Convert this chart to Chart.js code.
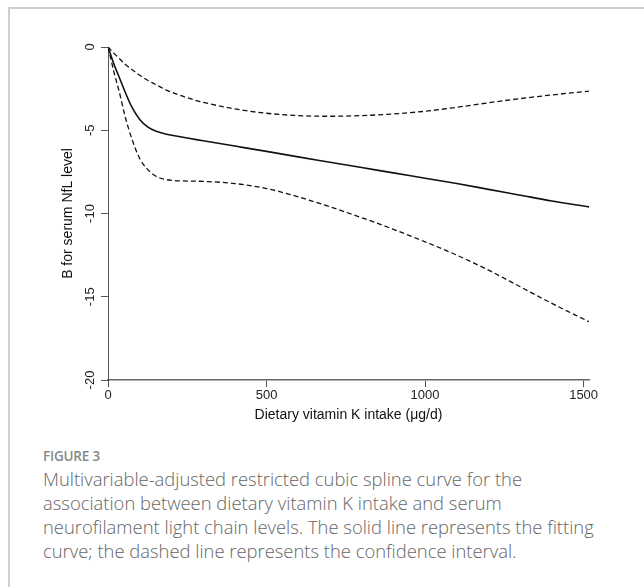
<!DOCTYPE html>
<html>
<head>
<meta charset="utf-8">
<script src="https://cdn.jsdelivr.net/npm/chart.js@4.4.0/dist/chart.umd.min.js"></script>
<style>
  html, body { margin: 0; padding: 0; background: #fff; }
  body { width: 644px; height: 587px; position: relative; overflow: hidden; }
  .frame { position: absolute; left: 8px; top: 7px; width: 720px; height: 700px; border-left: 2px solid #cfcfcf; border-top: 2px solid #cfcfcf; }
  .chart-box { position: absolute; left: 0; top: 0; width: 644px; height: 440px; }
  .fig-label { position: absolute; left: 43px; top: 447px; font-family: "Open Sans", Lato, sans-serif; font-weight: 600; font-size: 13.5px; color: #888; letter-spacing: -0.2px; }
  .caption { position: absolute; left: 43px; top: 467px; font-family: "Open Sans", Lato, sans-serif; font-weight: 300; font-size: 18.4px; line-height: 24px; color: #666; white-space: nowrap; }
</style>
</head>
<body>
<div class="frame"></div>
<div class="chart-box"><canvas id="splineChart" width="644" height="440"></canvas></div>
<div class="fig-label">FIGURE 3</div>
<div class="caption">Multivariable-adjusted restricted cubic spline curve for the<br>association between dietary vitamin K intake and serum<br>neurofilament light chain levels. The solid line represents the fitting<br>curve; the dashed line represents the confidence interval.</div>
<script>
// values
const intake = [0, 10, 20, 35, 55, 75, 100, 125, 150, 180, 210, 250, 300, 400, 500, 600, 700, 800, 900, 1000, 1100, 1200, 1300, 1400, 1517];
const fitB = [0, -0.55, -1.1, -1.8, -2.75, -3.6, -4.35, -4.8, -5.05, -5.22, -5.33, -5.47, -5.63, -5.95, -6.27, -6.6, -6.92, -7.24, -7.56, -7.88, -8.2, -8.55, -8.9, -9.25, -9.6];
const upperCI = [0, -0.2, -0.4, -0.68, -1.05, -1.35, -1.7, -2.0, -2.25, -2.55, -2.78, -3.05, -3.32, -3.72, -3.98, -4.12, -4.16, -4.12, -4.02, -3.86, -3.62, -3.35, -3.1, -2.88, -2.65];
const lowerCI = [0, -0.8, -1.6, -2.65, -4.25, -5.5, -6.7, -7.35, -7.75, -7.95, -8.02, -8.05, -8.07, -8.2, -8.5, -9.0, -9.6, -10.25, -10.95, -11.7, -12.5, -13.4, -14.4, -15.4, -16.5];
const xTicks = [0, 500, 1000, 1500];
const yTicks = [0, -5, -10, -15, -20];

Chart.defaults.font.family = '"Liberation Sans", Arial, sans-serif';

function toPoints(ys) {
    return intake.map((x, i) => ({ x: x, y: ys[i] }));
}

const lineStyle = {
    pointRadius: 0,
    fill: false,
    borderColor: '#111',
    cubicInterpolationMode: 'monotone'
};

const ctx = document.getElementById('splineChart').getContext('2d');
const splineChart = new Chart(ctx, {
    type: 'line',
    data: {
        datasets: [
            Object.assign({ label: 'Fit', data: toPoints(fitB), borderWidth: 1.6 }, lineStyle),
            Object.assign({ label: 'Upper CI', data: toPoints(upperCI), borderWidth: 1.3, borderDash: [5, 3] }, lineStyle),
            Object.assign({ label: 'Lower CI', data: toPoints(lowerCI), borderWidth: 1.3, borderDash: [5, 3] }, lineStyle)
        ]
    },
    options: {
        responsive: false,
        animation: false,
        layout: { padding: { left: 56, top: 47, right: 55, bottom: 12 } },
        plugins: { legend: { display: false }, tooltip: { enabled: false } },
        scales: {
            x: {
                type: 'linear',
                min: 0,
                max: 1517,
                afterBuildTicks: scale => { scale.ticks = xTicks.map(v => ({ value: v })); },
                afterFit: scale => { scale.height = 48; },
                ticks: { font: { size: 13 }, color: '#222', padding: 1, maxRotation: 0, callback: v => String(v) },
                grid: { drawOnChartArea: false, tickLength: 7, color: '#555', tickWidth: 1 },
                border: { color: '#666', width: 1.5 },
                title: {
                    display: true,
                    text: 'Dietary vitamin K intake (μg/d)',
                    font: { size: 14 },
                    color: '#111',
                    padding: { top: 4, bottom: 4 }
                }
            },
            y: {
                min: -20,
                max: 0,
                afterBuildTicks: scale => { scale.ticks = yTicks.map(v => ({ value: v })); },
                afterFit: scale => { scale.width = 52; },
                ticks: { font: { size: 13 }, color: '#222', padding: 1, minRotation: 90, maxRotation: 90, crossAlign: 'center', callback: v => String(v) },
                grid: { drawOnChartArea: false, tickLength: 7, color: '#555', tickWidth: 1 },
                border: { color: '#555', width: 1 },
                title: {
                    display: true,
                    text: 'B for serum NfL level',
                    font: { size: 14 },
                    color: '#111',
                    padding: { top: 4, bottom: 4 }
                }
            }
        }
    }
});
</script>
</body>
</html>
